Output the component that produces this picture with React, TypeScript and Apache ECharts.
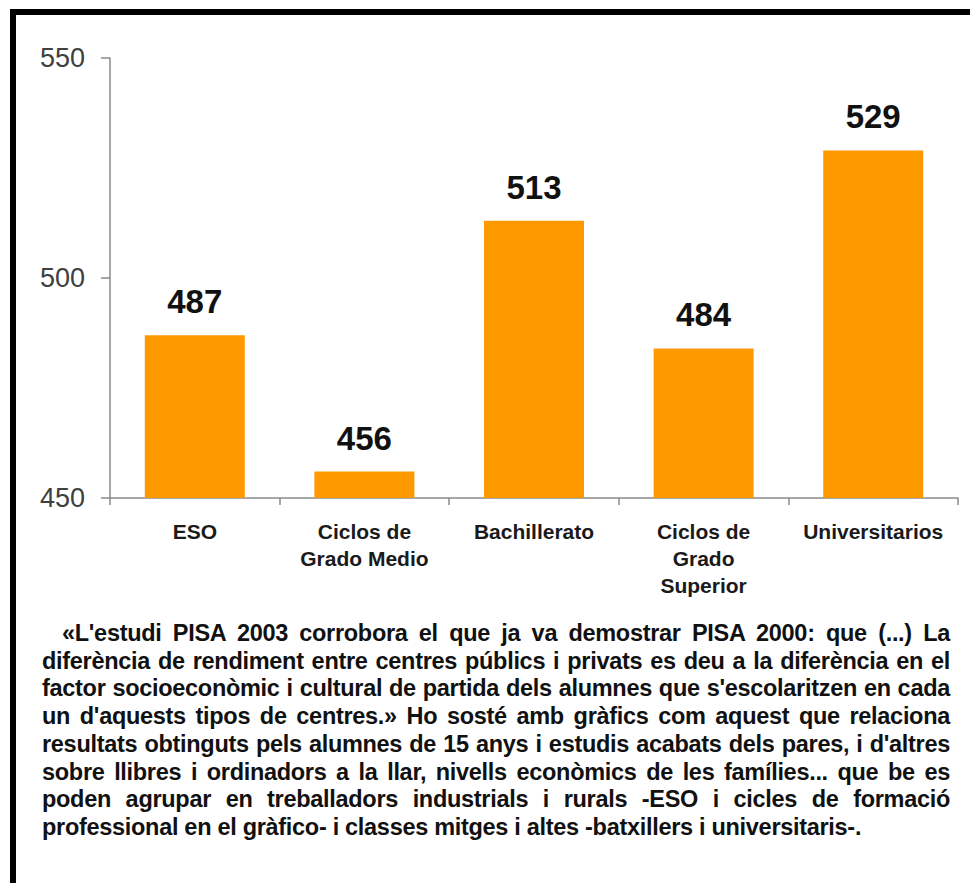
import React, { useEffect, useRef } from "react";
import * as echarts from "echarts";

const categories = ["ESO", "Ciclos de Grado Medio", "Bachillerato", "Ciclos de Grado Superior", "Universitarios"];
const categoryLabels = ["ESO", "Ciclos de\nGrado Medio", "Bachillerato", "Ciclos de\nGrado\nSuperior", "Universitarios"];
const scores = [487, 456, 513, 484, 529];
const yMin = 450;
const yMax = 550;
const yInterval = 50;

const captionLines = [
  "«L'estudi PISA 2003 corrobora el que ja va demostrar PISA 2000: que (...) La",
  "diferència de rendiment entre centres públics i privats es deu a la diferència en el",
  "factor socioeconòmic i cultural de partida dels alumnes que s'escolaritzen en cada",
  "un d'aquests tipos de centres.» Ho sosté amb gràfics com aquest que relaciona",
  "resultats obtinguts pels alumnes de 15 anys i estudis acabats dels pares, i d'altres",
  "sobre llibres i ordinadors a la llar, nivells econòmics de les famílies... que be es",
  "poden agrupar en treballadors industrials i rurals -ESO i cicles de formació",
  "professional en el gràfico- i classes mitges i altes -batxillers i universitaris-.",
];

export default function App() {
  const ref = useRef<HTMLDivElement>(null);

  useEffect(() => {
    if (!ref.current) return;
    const chart = echarts.init(ref.current, null, { renderer: "svg" });
    chart.setOption({
      animation: false,
      backgroundColor: "#ffffff",
      textStyle: { fontFamily: "'Liberation Sans', Arial, sans-serif" },
      graphic: [
        { type: "rect", shape: { x: 10, y: 9, width: 960, height: 6 }, style: { fill: "#000" } },
        { type: "rect", shape: { x: 10, y: 9, width: 6, height: 874 }, style: { fill: "#000" } },
      ],
      grid: { left: 110, right: 12, top: 58, bottom: 385, containLabel: false },
      xAxis: {
        type: "category",
        data: categories,
        axisLine: { show: true, lineStyle: { color: "#8a8a8a", width: 1.5 } },
        axisTick: { show: true, length: 7, lineStyle: { color: "#8a8a8a", width: 1.5 } },
        axisLabel: {
          interval: 0,
          margin: 20,
          fontSize: 21,
          fontWeight: "bold",
          color: "#1a1a1a",
          lineHeight: 27,
          formatter: (_v: string, i: number) => categoryLabels[i],
        },
      },
      yAxis: {
        type: "value",
        min: yMin,
        max: yMax,
        interval: yInterval,
        axisLine: { show: true, lineStyle: { color: "#8a8a8a", width: 1.5 } },
        axisTick: { show: true, length: 9, lineStyle: { color: "#8a8a8a", width: 1.5 } },
        splitLine: { show: false },
        axisLabel: { margin: 25, fontSize: 27, color: "#404040" },
      },
      series: [
        {
          type: "bar",
          data: scores,
          barWidth: 100,
          itemStyle: { color: "#ff9900" },
          label: {
            show: true,
            position: "top",
            distance: 17,
            fontSize: 33,
            fontWeight: "bold",
            color: "#111111",
          },
        },
      ],
    });
    return () => chart.dispose();
  }, []);

  return (
    <div style={{ position: "absolute", left: 0, top: 0, width: 970, height: 883, background: "#fff", overflow: "hidden" }}>
      <div ref={ref} style={{ position: "absolute", left: 0, top: 0, width: 970, height: 883 }} />
      <div
        style={{
          position: "absolute",
          left: 42,
          top: 620,
          width: 908,
          fontFamily: "'Liberation Sans', Arial, sans-serif",
          fontWeight: "bold",
          fontSize: 23.5,
          letterSpacing: "-0.3px",
          lineHeight: "27.7px",
          color: "#111",
        }}
      >
        {captionLines.map((line, i) => (
          <div
            key={i}
            style={{
              textAlign: i === captionLines.length - 1 ? "left" : "justify",
              textAlignLast: i === captionLines.length - 1 ? "left" : "justify",
              textIndent: i === 0 ? 20 : 0,
            }}
          >
            {line}
          </div>
        ))}
      </div>
    </div>
  );
}
